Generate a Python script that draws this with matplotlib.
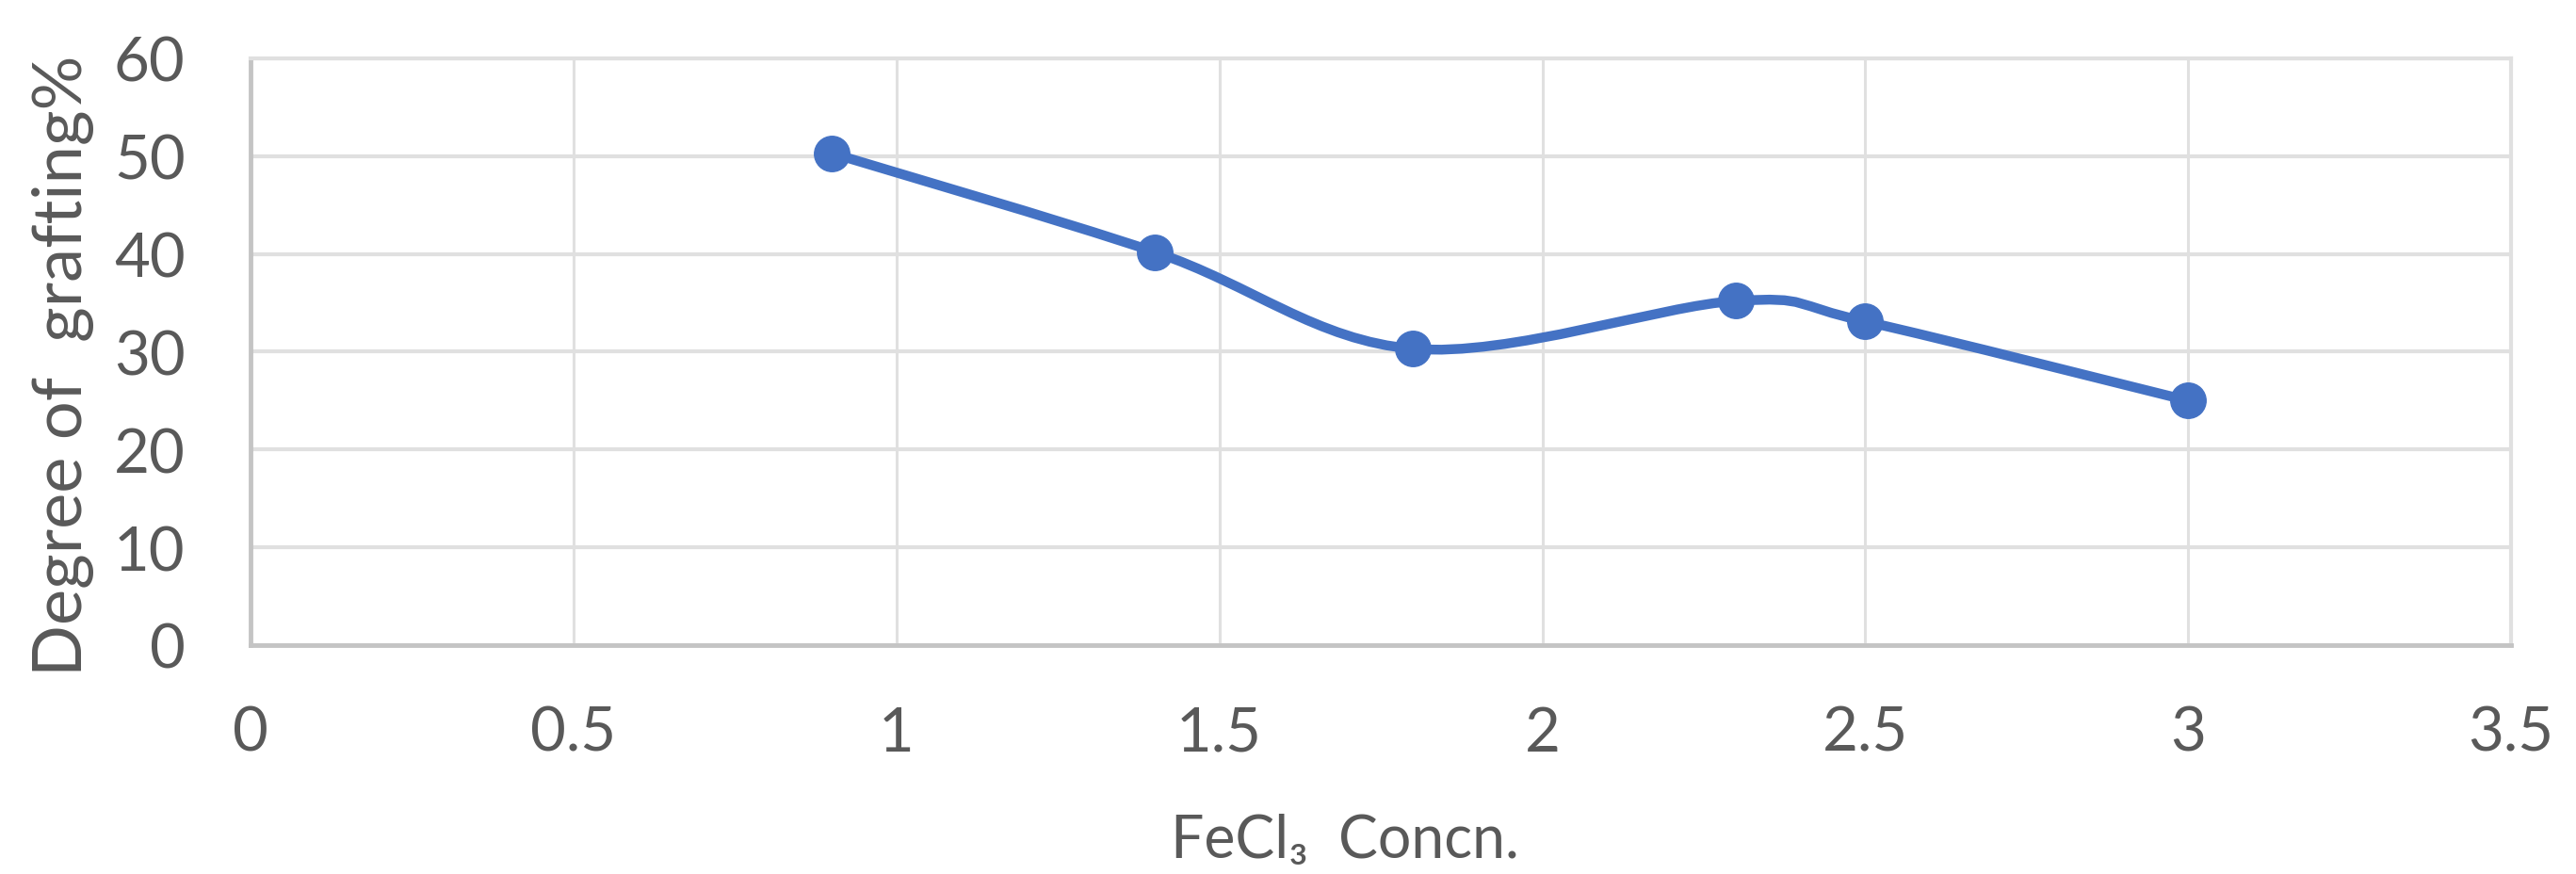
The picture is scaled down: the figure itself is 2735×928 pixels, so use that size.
import numpy as np
import matplotlib
matplotlib.use("Agg")
import matplotlib.pyplot as plt
from matplotlib.path import Path
from matplotlib.patches import PathPatch

# data
fecl3_conc = [0.9, 1.4, 1.8, 2.3, 2.5, 3.0]
grafting_pct = [50.3, 40.2, 30.3, 35.2, 33.1, 25.0]

x_ticks = [0, 0.5, 1, 1.5, 2, 2.5, 3, 3.5]
x_tick_labels = ["0", "0.5", "1", "1.5", "2", "2.5", "3", "3.5"]
y_ticks = [0, 10, 20, 30, 40, 50, 60]

plt.rcParams['font.family'] = ['Lato', 'DejaVu Sans']

line_color = '#4472C4'
text_color = '#595959'
grid_color = '#e0e0e0'
axis_color = '#c4c4c4'

fig = plt.figure(figsize=(27.35, 9.29), dpi=100)
ax = fig.add_axes([0.0973, 0.2616, 0.8775, 0.6706])


def smooth_path(xs, ys):
    # Excel-style smoothed line: cubic bezier through the points (Catmull-Rom)
    pts = np.column_stack([xs, ys]).astype(float)
    n = len(pts)
    verts = [pts[0]]
    codes = [Path.MOVETO]
    for i in range(n - 1):
        p0 = pts[max(i - 1, 0)]
        p1 = pts[i]
        p2 = pts[i + 1]
        p3 = pts[min(i + 2, n - 1)]
        c1 = p1 + (p2 - p0) / 6.0
        c2 = p2 - (p3 - p1) / 6.0
        verts += [c1, c2, p2]
        codes += [Path.CURVE4] * 3
    return Path(verts, codes)


patch = PathPatch(smooth_path(fecl3_conc, grafting_pct), facecolor='none',
                  edgecolor=line_color, linewidth=7.5, capstyle='round',
                  joinstyle='round', zorder=3)
ax.add_patch(patch)
ax.plot(fecl3_conc, grafting_pct, 'o', color=line_color, markersize=27, zorder=4)

ax.set_xlim(0, 3.5)
ax.set_ylim(0, 60)
ax.set_xticks(x_ticks)
ax.set_xticklabels(x_tick_labels)
ax.set_yticks(y_ticks)

ax.grid(True, axis='y', color=grid_color, linewidth=3, zorder=0)
ax.grid(True, axis='x', color=grid_color, linewidth=2.2, zorder=0)
ax.set_axisbelow(True)

for side in ['top', 'right']:
    ax.spines[side].set_color(grid_color)
    ax.spines[side].set_linewidth(3)
for side in ['left', 'bottom']:
    ax.spines[side].set_color(axis_color)
    ax.spines[side].set_linewidth(3.5)

ax.tick_params(axis='both', length=0, labelsize=47, labelcolor=text_color)
ax.tick_params(axis='x', pad=46)
ax.tick_params(axis='y', pad=50)

ax.set_xlabel('FeCl\u2083  Concn.', fontsize=45, color=text_color)
ax.xaxis.label.set_va('baseline')
ax.xaxis.set_label_coords(0.484, -0.361)

ax.set_ylabel('Degree of  grafting%', fontsize=52, color=text_color)
ax.yaxis.label.set_va('center')
ax.yaxis.set_label_coords(-0.083, 0.478)

fig.savefig('out.png', dpi=100, facecolor='white')
